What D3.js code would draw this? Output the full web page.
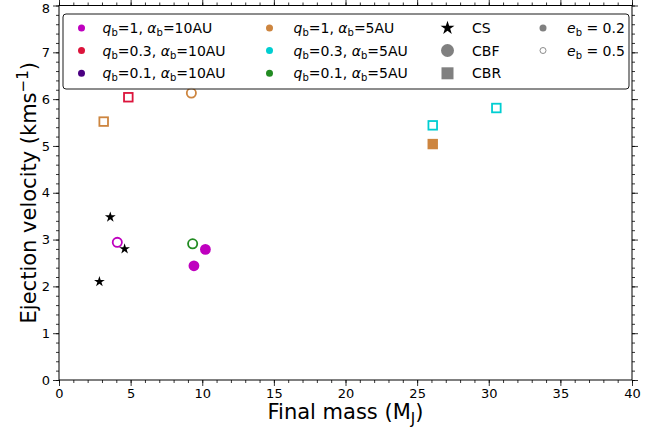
<!DOCTYPE html>
<html><head><meta charset="utf-8">
<script src="https://cdn.jsdelivr.net/npm/d3@7/dist/d3.min.js"></script>
<style>body{margin:0;background:#fff}svg{display:block;font-family:"DejaVu Sans",sans-serif}</style>
</head><body>
<svg id="c" width="659" height="431"></svg>
<script>
// ---- data ----
const groupLabels = [["1","10AU"],["0.3","10AU"],["0.1","10AU"],["1","5AU"],["0.3","5AU"],["0.1","5AU"]];
const groupColors = ["#bf00bf","#dc143c","#4b0082","#cd853f","#00ced1","#228b22"];
const mechanisms = ["CS","CBF","CBR"];
const eccLabels = ["0.2","0.5"];
// points
const finalMass        = [4.07, 10.22, 9.42, 4.84, 3.12, 9.24, 26.09, 26.09, 30.53, 9.33, 3.58, 4.58, 2.82];
const ejectionVelocity = [2.94, 2.79, 2.44, 6.04, 5.52, 6.13, 5.04, 5.44, 5.81, 2.91, 3.48, 2.80, 2.10];
const pointGroup       = [0, 0, 0, 1, 3, 3, 3, 4, 4, 5, -1, -1, -1];
const pointMech        = ["CBF","CBF","CBF","CBR","CBR","CBF","CBR","CBR","CBR","CBF","CS","CS","CS"];
const pointEcc         = ["0.5","0.2","0.2","0.5","0.5","0.5","0.2","0.5","0.5","0.5","0.2","0.2","0.2"];
const xTicks = [0,5,10,15,20,25,30,35,40];
const yTicks = [0,1,2,3,4,5,6,7,8];

const svg = d3.select("#c");
const L=59, R=632, T=5.5, B=380;
const x = d3.scaleLinear().domain([0,40]).range([L,R]);
const y = d3.scaleLinear().domain([0,8]).range([B,T]);

// axes
const xMinor = d3.range(0,41,1), yMinor = d3.range(0,8.001,0.2);
function axisG(axisFn, scale, pos, ticks, minor, labels){
  const g = svg.append("g").attr("transform", pos);
  g.call(axisFn(scale).tickValues(minor).tickSize(3).tickFormat(""));
  const g2 = svg.append("g").attr("transform", pos);
  g2.call(axisFn(scale).tickValues(ticks).tickSize(6).tickPadding(3).tickFormat(labels? d3.format("d") : ""));
  [g,g2].forEach(gg=>{gg.select(".domain").remove(); gg.selectAll("line").attr("stroke","#000").attr("stroke-width",0.8);
    gg.selectAll("text").attr("font-size",13).attr("fill","#000").attr("font-family","DejaVu Sans");});
  return g2;
}
axisG(d3.axisBottom, x, `translate(0,${B})`, xTicks, xMinor, true);
axisG(d3.axisTop, x, `translate(0,${T})`, xTicks, xMinor, false);
const yl = axisG(d3.axisLeft, y, `translate(${L},0)`, yTicks, yMinor, true);
yl.selectAll(".tick text").filter(d=>d===8).attr("dy","0.55em");
axisG(d3.axisRight, y, `translate(${R},0)`, yTicks, yMinor, false);
svg.append("rect").attr("x",L).attr("y",T).attr("width",R-L).attr("height",B-T)
  .attr("fill","none").attr("stroke","#000").attr("stroke-width",1);

// axis labels
svg.append("text").attr("x",(L+R)/2).attr("y",419).attr("text-anchor","middle").attr("font-size",21)
  .html('Final mass (M<tspan dy="5" font-size="15">J</tspan><tspan dy="-5">)</tspan>');
svg.append("text").attr("transform",`translate(36,${(T+B)/2}) rotate(-90)`).attr("text-anchor","middle").attr("font-size",21)
  .html('Ejection velocity (kms<tspan dy="-8" font-size="15">−1</tspan><tspan dy="8">)</tspan>');

// marks
const star = d3.symbol().type(d3.symbolStar);
function drawMark(g, cx, cy, mech, ecc, color, scale){
  scale = scale||1;
  if (mech==="CS"){
    g.append("path").attr("d", star.size(36*scale*scale)()).attr("transform",`translate(${cx},${cy})`).attr("fill","#000");
  } else if (mech==="CBF"){
    const r = 4.6*scale;
    if (ecc==="0.2") g.append("circle").attr("cx",cx).attr("cy",cy).attr("r",r+0.8).attr("fill",color);
    else g.append("circle").attr("cx",cx).attr("cy",cy).attr("r",r).attr("fill","#fff").attr("stroke",color).attr("stroke-width",1.8);
  } else {
    const s = 8.6*scale;
    if (ecc==="0.2") g.append("rect").attr("x",cx-s/2-0.9).attr("y",cy-s/2-0.9).attr("width",s+1.8).attr("height",s+1.8).attr("fill",color);
    else g.append("rect").attr("x",cx-s/2).attr("y",cy-s/2).attr("width",s).attr("height",s).attr("fill","#fff").attr("stroke",color).attr("stroke-width",1.8);
  }
}
const pts = svg.append("g");
finalMass.forEach((m,i)=>{
  drawMark(pts, x(m), y(ejectionVelocity[i]), pointMech[i], pointEcc[i], pointGroup[i]<0?"#000":groupColors[pointGroup[i]]);
});

// legend
const lg = svg.append("g");
lg.append("rect").attr("x",63).attr("y",14).attr("width",566).attr("height",75).attr("rx",3)
  .attr("fill","#fff").attr("fill-opacity",0.8).attr("stroke","#000").attr("stroke-width",0.9);
const rowY = [28, 50.5, 73.3];
const fs = 14;
groupLabels.forEach((gl,i)=>{
  const col = Math.floor(i/3), row = i%3;
  const mx = col===0?81.5:269.5, tx = col===0?102.5:293.5;
  lg.append("circle").attr("cx",mx).attr("cy",rowY[row]).attr("r",3.5).attr("fill",groupColors[i]);
  lg.append("text").attr("x",tx).attr("y",rowY[row]+5).attr("font-size",fs)
    .html(`<tspan font-style="italic">q</tspan><tspan dy="3" font-size="10">b</tspan><tspan dy="-3">=${gl[0]}, </tspan><tspan font-style="italic">α</tspan><tspan dy="3" font-size="10">b</tspan><tspan dy="-3">=${gl[1]}</tspan>`);
});
mechanisms.forEach((m,i)=>{
  const cx=447.5, cy=rowY[i];
  if (m==="CS") lg.append("path").attr("d", star.size(60)()).attr("transform",`translate(${cx},${cy})`).attr("fill","#000");
  else if (m==="CBF") lg.append("circle").attr("cx",cx).attr("cy",cy).attr("r",6.5).attr("fill","#808080");
  else lg.append("rect").attr("x",cx-6).attr("y",cy-6).attr("width",12).attr("height",12).attr("fill","#808080");
  lg.append("text").attr("x",472).attr("y",cy+5).attr("font-size",fs).text(m);
});
eccLabels.forEach((e,i)=>{
  const cx=543, cy=rowY[i];
  if (i===0) lg.append("circle").attr("cx",cx).attr("cy",cy).attr("r",3.5).attr("fill","#808080");
  else lg.append("circle").attr("cx",cx).attr("cy",cy).attr("r",3).attr("fill","#fff").attr("stroke","#808080").attr("stroke-width",0.9);
  lg.append("text").attr("x",567).attr("y",cy+5).attr("font-size",fs)
    .html(`<tspan font-style="italic">e</tspan><tspan dy="3" font-size="10">b</tspan><tspan dy="-3"> = ${e}</tspan>`);
});
</script>
</body></html>
